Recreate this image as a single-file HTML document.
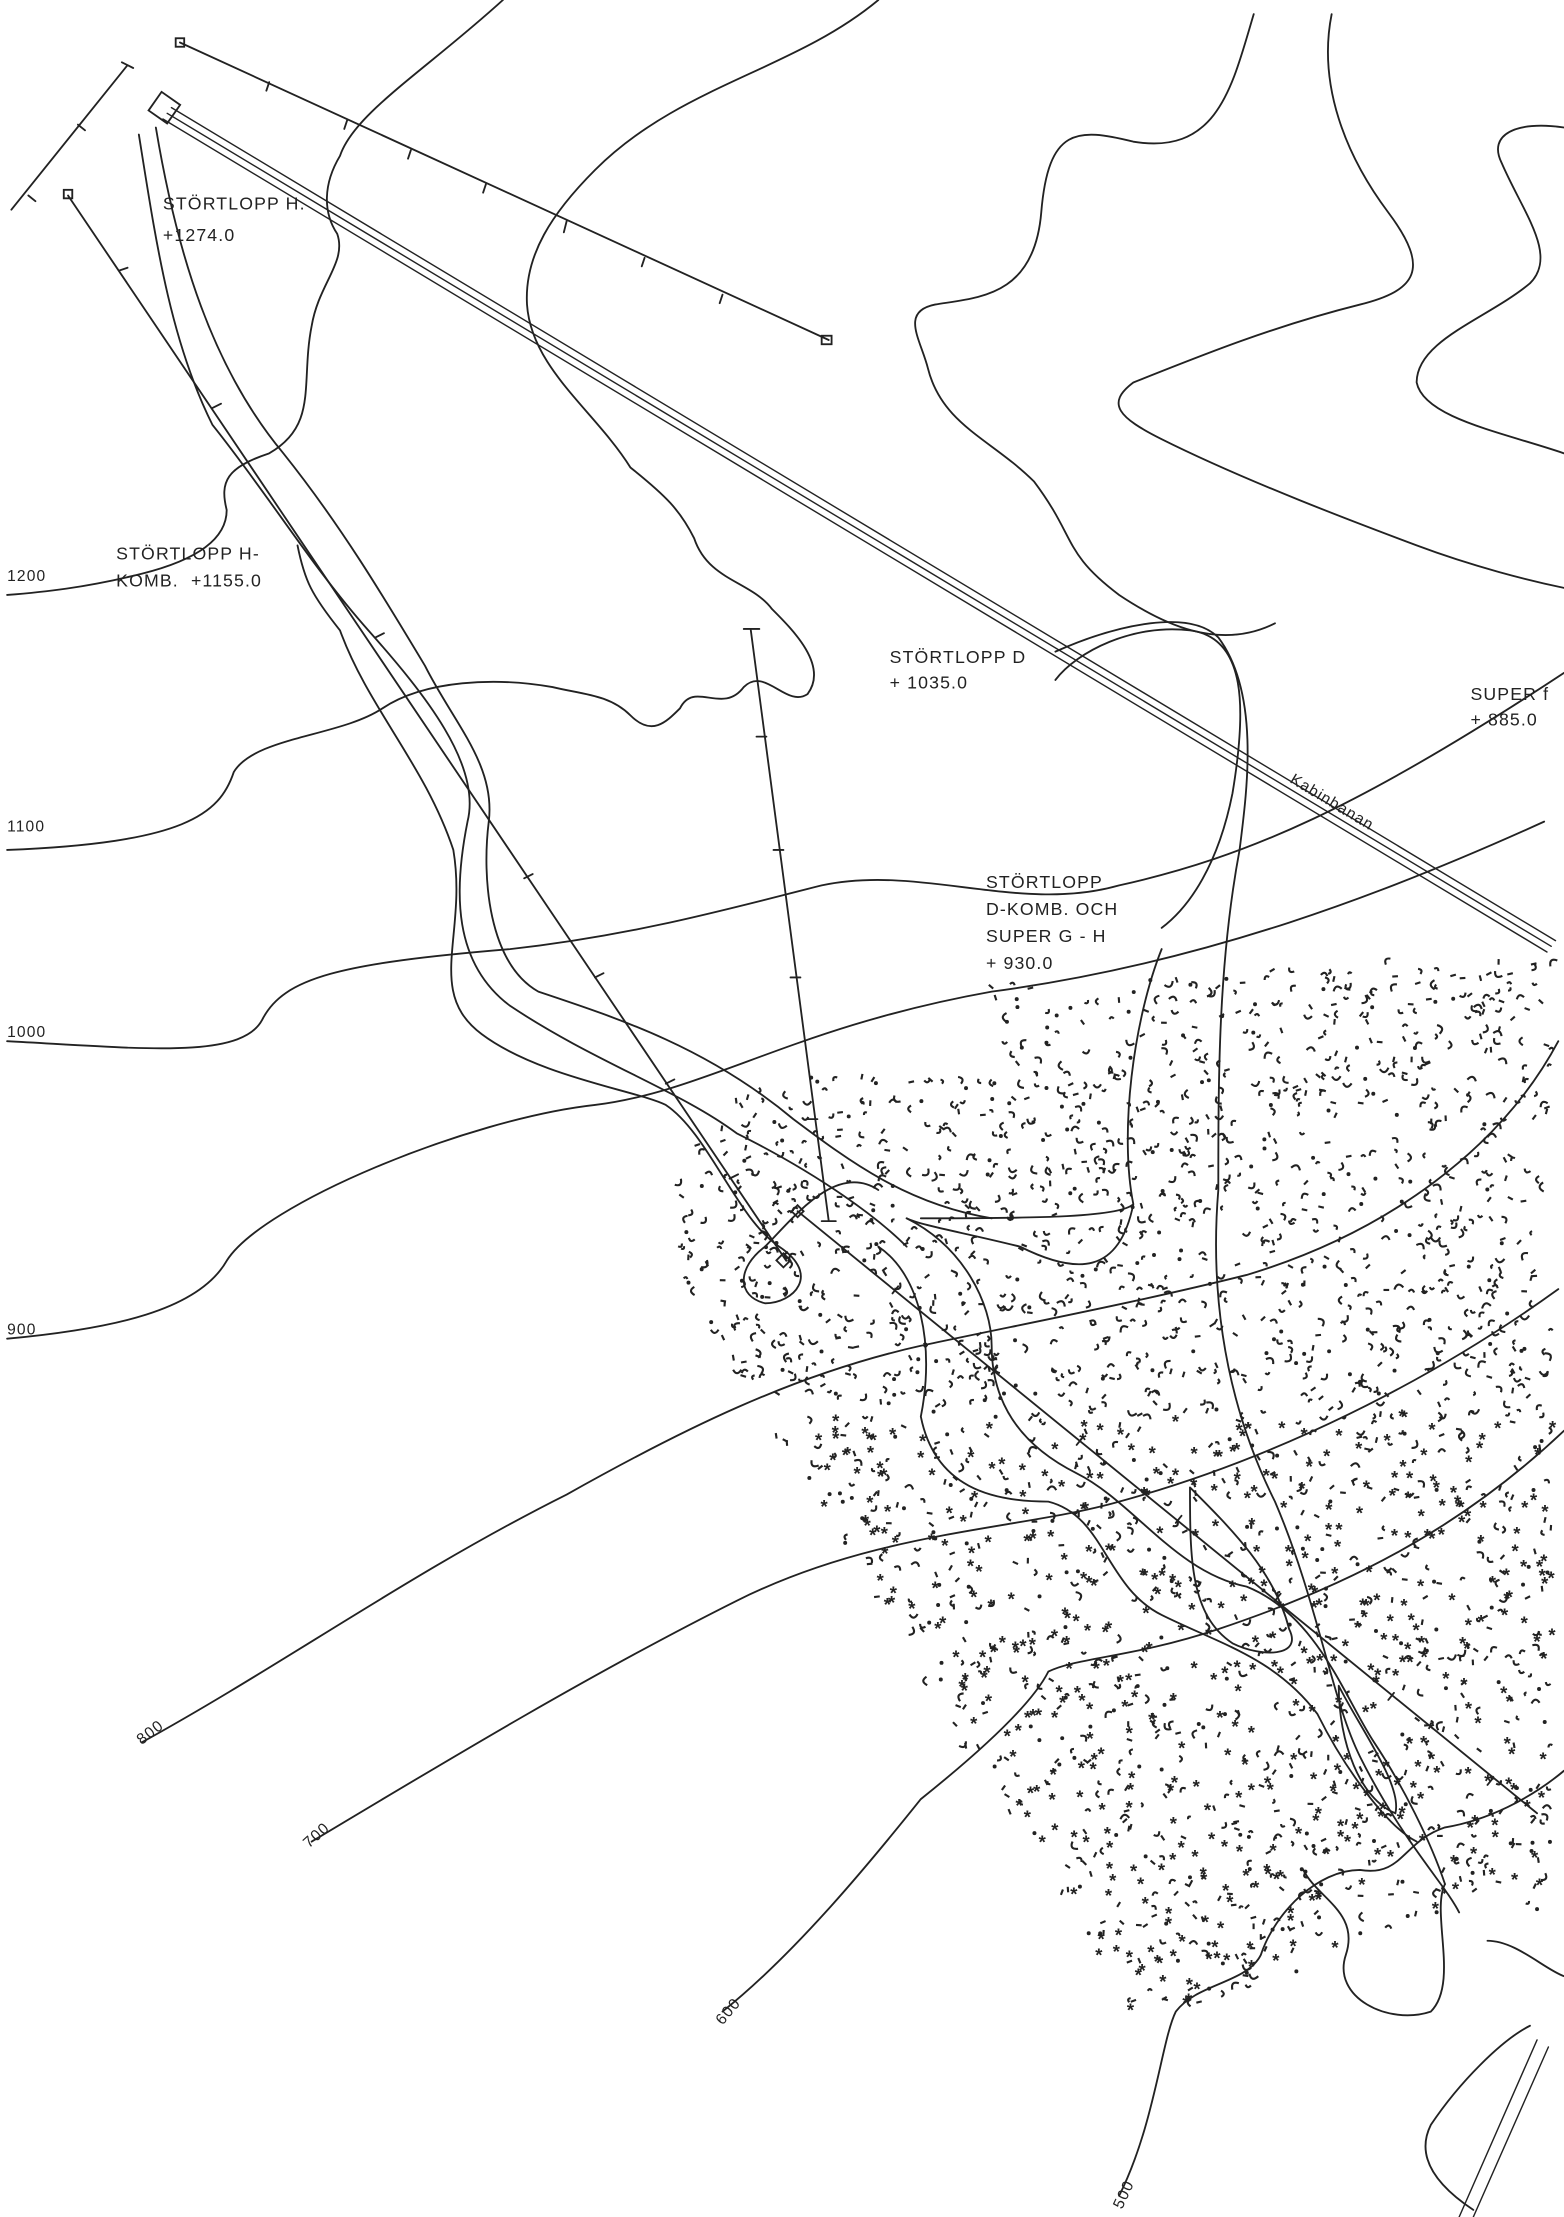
<!DOCTYPE html>
<html><head><meta charset="utf-8"><style>
html,body{margin:0;padding:0;background:#fff}
svg{display:block}
text{font-family:"Liberation Sans",sans-serif;fill:#222;font-size:12.5px;letter-spacing:0.8px}
</style></head><body>
<svg id="s" width="1564" height="2217" viewBox="0 0 1104 1565" xmlns="http://www.w3.org/2000/svg">
<g fill="none" stroke="#222" stroke-width="1.3" stroke-linecap="round">
<path d="M118,80 L1095,668 M121,76 L1098,664 M115,84 L1092,672" stroke-width="1"/>
<rect x="108" y="68" width="16" height="16" transform="rotate(35 116 76)"/>
<path d="M1085,1440 L1030,1565 M1093,1445 L1040,1565" stroke-width="1"/>
<path d="M127,30 L585,240"/><rect x="124" y="27" width="6" height="6"/><rect x="580" y="237" width="7" height="6"/>
<path d="M8,148 L90,46 M86,44 L94,48"/>
<path d="M48,138 L555,890"/><rect x="45" y="134" width="6" height="6"/><rect x="550" y="886" width="7" height="7" transform="rotate(45 553 889)"/>
<path d="M530,445 L585,862 M525,444 L536,444 M580,862 L590,862"/>
<path d="M563,855 L1085,1280"/><rect x="560" y="852" width="6" height="6" transform="rotate(45 563 855)"/>
<path d="M55,88 l5,4 M20,138 l5,4 M190,58 l-2,6 M245,85 l-2,6 M290,106 l-2,6 M343,130 l-2,6 M400,156 l-2,8 M455,182 l-2,6 M510,208 l-2,6 M84,191 l6,-2 M150,288 l6,-3 M265,450 l6,-3 M370,620 l6,-3 M420,690 l6,-3 M470,765 l6,-3 M515,832 l6,-3 M534,520 l7,0 M546,600 l7,0 M558,690 l7,0 M570,790 l7,0 M630,913 l4,-5 M700,970 l4,-5 M760,1020 l4,-5 M830,1075 l4,-5 M900,1130 l4,-5 M980,1200 l4,-5 M1050,1260 l4,-5"/>
<path d="M355,0 C300,50 250,80 240,110 C228,130 228,150 238,165 C245,185 225,200 220,230 C212,270 225,300 190,320 C160,330 155,340 160,360 C160,380 140,395 100,405 C60,415 30,418 5,420"/>
<path d="M620,0 C560,50 480,60 420,120 C390,150 370,180 372,215 C375,260 420,290 445,330 C470,350 480,360 490,380 C500,410 530,410 545,430 C560,445 585,470 570,490 C555,500 540,470 525,485 C510,505 490,480 480,500 C470,510 460,520 445,505 C430,490 410,490 390,485 C350,478 300,480 270,500 C240,520 180,520 165,545 C155,575 130,595 5,600"/>
<path d="M885,10 C870,60 860,110 800,100 C760,90 740,90 735,150 C730,210 690,210 660,215 C635,220 650,240 655,260 C665,300 700,310 730,340 C760,380 750,390 790,420 C820,440 860,460 900,440"/>
<path d="M940,10 C930,60 950,110 980,150 C1010,190 1000,205 960,215 C900,230 850,250 800,270 C780,285 790,295 820,310 C880,340 960,370 1000,385 C1040,400 1080,410 1104,415"/>
<path d="M1104,90 C1070,85 1050,95 1060,115 C1075,150 1100,180 1080,200 C1050,225 1000,240 1000,270 C1005,295 1060,305 1104,320"/>
<path d="M5,735 C100,740 170,748 185,720 C200,690 240,680 360,670 C450,660 520,640 580,625 C650,610 720,645 790,625 C880,605 960,570 1104,475"/>
<path d="M5,945 C80,938 140,925 160,890 C185,850 330,790 420,780 C500,770 560,725 700,700 C850,680 980,630 1090,580"/>
<path d="M100,1230 C200,1175 290,1110 400,1055 C480,1010 560,970 650,950 C720,935 800,920 880,900 C980,870 1060,810 1100,735"/>
<path d="M220,1300 C320,1240 420,1180 520,1130 C620,1080 720,1080 790,1060 C900,1030 1010,975 1100,910"/>
<path d="M510,1420 C560,1380 610,1320 650,1270 C700,1230 730,1200 740,1180 C760,1170 800,1170 860,1150 C950,1120 1030,1080 1104,1010"/>
<path d="M790,1550 C815,1500 820,1440 830,1420 C845,1400 880,1400 890,1380 C900,1350 930,1320 960,1320 C990,1325 990,1300 1020,1290 C1050,1285 1080,1270 1104,1250"/>
<path d="M1040,1560 C1010,1540 1000,1520 1010,1500 C1030,1470 1060,1440 1080,1430 M1050,1370 C1070,1370 1090,1390 1104,1395"/>
<path d="M920,1320 C930,1340 960,1350 950,1380 C940,1410 980,1430 1010,1420 C1030,1400 1010,1350 1020,1330"/>
<path d="M98,95 C110,170 120,240 150,300 C190,350 220,400 260,445 C300,490 340,540 330,580 C320,630 320,680 360,710 C420,750 480,770 520,800 C580,830 620,860 640,880"/>
<path d="M110,90 C125,180 150,260 200,320 C240,370 270,420 300,470 C320,510 350,540 345,580 C340,620 345,680 380,700 C440,720 500,740 560,790 C600,820 640,850 700,860"/>
<path d="M210,385 C215,410 220,420 240,445 C260,500 300,540 320,600 C330,660 300,700 340,730 C380,760 450,770 470,780 C500,800 520,860 550,880 C580,900 560,920 540,920 C520,915 520,895 540,880 C560,860 590,820 620,840"/>
<path d="M745,480 C760,460 800,440 840,445 C880,450 880,500 870,560 C860,610 840,640 820,655"/>
<path d="M745,460 C790,440 840,430 860,450 C890,490 880,560 875,600 C860,680 860,760 860,840 C855,900 860,980 900,1060 C930,1130 940,1200 960,1240 C990,1300 1020,1330 1030,1350"/>
<path d="M820,670 C800,720 790,800 800,850 C790,860 720,860 650,860 M800,850 C790,900 760,900 720,880 C680,870 650,865 640,860"/>
<path d="M640,860 C680,880 700,920 700,950 C700,990 720,1020 760,1040 C800,1060 830,1110 880,1120 C930,1140 950,1200 970,1230 C990,1260 1010,1300 1020,1330"/>
<path d="M620,880 C650,900 660,950 650,1000 C660,1050 700,1060 740,1060 C780,1070 780,1120 820,1140 C860,1160 900,1170 930,1210 C950,1250 980,1290 1000,1300"/>
<path d="M840,1050 C870,1080 900,1110 910,1150 C920,1170 890,1170 870,1160 C840,1140 840,1100 840,1050"/>
<path d="M945,1190 C960,1220 990,1260 985,1280 C960,1270 945,1230 945,1190"/>
</g>
<g id="f" fill="#222"></g>
<text x="115" y="148">STÖRTLOPP H.</text>
<text x="115" y="170">+1274.0</text>
<text x="82" y="395">STÖRTLOPP H-</text>
<text x="82" y="414">KOMB.&#160;&#160;+1155.0</text>
<text x="628" y="468">STÖRTLOPP D</text>
<text x="628" y="486">+ 1035.0</text>
<text x="696" y="627">STÖRTLOPP</text>
<text x="696" y="646">D-KOMB. OCH</text>
<text x="696" y="665">SUPER G - H</text>
<text x="696" y="684">+ 930.0</text>
<text x="1038" y="494">SUPER f</text>
<text x="1038" y="512">+ 885.0</text>
<text x="910" y="552" transform="rotate(31 910 552)" style="font-size:11px">Kabinbanan</text>
<text x="5" y="410" style="font-size:11px">1200</text>
<text x="5" y="587" style="font-size:11px">1100</text>
<text x="5" y="732" style="font-size:11px">1000</text>
<text x="5" y="942" style="font-size:11px">900</text>
<text x="100" y="1232" transform="rotate(-38 100 1232)" style="font-size:11px">800</text>
<text x="218" y="1305" transform="rotate(-42 218 1305)" style="font-size:11px">700</text>
<text x="510" y="1430" transform="rotate(-50 510 1430)" style="font-size:11px">600</text>
<text x="792" y="1560" transform="rotate(-65 792 1560)" style="font-size:11px">500</text>
</svg>
<script>
(function(){
var g=document.getElementById('f'),s=12345;
function r(){s=(s*1103515245+12345)%2147483648;return s/2147483648;}
function inside(x,y){
 if(y<680||y>1420)return false;
 var lb = y<900? 480 + Math.max(0,(820-y))*0.9 : 480+(y-900)*0.6;
 if(x<lb)return false;
 if(x>1095)return false;
 var rb = y>1350? 1000 - (y-1350)*2 : 1100;
 if(x>rb)return false;
 var top = 700 - (x-600)*0.05; if(x>950) top=680-(x-950)*0.15;
 if(y<top) return false;
 if(x<700 && y<760) return false;
 return true;
}
var out='';
for(var i=0;i<3600;i++){
 var x=480+r()*620,y=670+r()*760;
 if(!inside(x,y))continue;
 var t=r();
 if(y>1000&&t<0.35){
   out+='<text x="'+x.toFixed(1)+'" y="'+(y+4).toFixed(1)+'" style="font-size:13px;font-weight:bold;letter-spacing:0">*</text>';
 }else if(t<0.6){
   var a=r()*6.28,l=2.5+r()*4;
   out+='<path d="M'+x.toFixed(1)+','+y.toFixed(1)+' q'+(Math.cos(a)*l).toFixed(1)+','+(Math.sin(a)*l).toFixed(1)+' '+(Math.cos(a+1)*l).toFixed(1)+','+(Math.sin(a+1)*l).toFixed(1)+'" fill="none" stroke="#222" stroke-width="1.5"/>';
 }else if(t<0.88){
   var a2=r()*6.28;
   out+='<line x1="'+x.toFixed(1)+'" y1="'+y.toFixed(1)+'" x2="'+(x+Math.cos(a2)*4).toFixed(1)+'" y2="'+(y+Math.sin(a2)*4).toFixed(1)+'" stroke="#222" stroke-width="1.5"/>';
 }else{
   out+='<circle cx="'+x.toFixed(1)+'" cy="'+y.toFixed(1)+'" r="1.4"/>';
 }
}
g.innerHTML=out;
})();
</script>
</body></html>
